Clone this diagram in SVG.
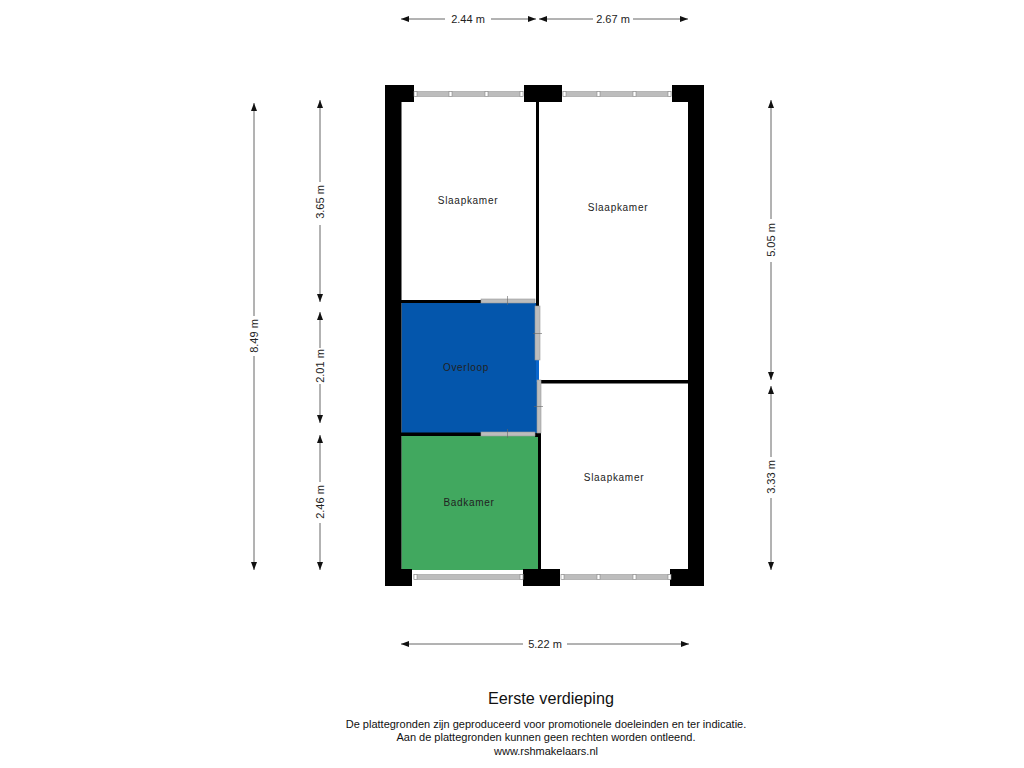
<svg xmlns="http://www.w3.org/2000/svg" width="1024" height="768" viewBox="0 0 1024 768">
<style>
.w{fill:#000}
.g{fill:#bdbdbd;stroke:#999;stroke-width:.6}
.p{fill:#fff;stroke:#888;stroke-width:.6}
.t{font-family:"Liberation Sans",Arial,sans-serif;font-size:10px;fill:#222;text-anchor:middle;letter-spacing:.7px}
.d{font-family:"Liberation Sans",Arial,sans-serif;font-size:11px;fill:#222;text-anchor:middle}
.c{font-family:"Liberation Sans",Arial,sans-serif;font-size:11px;fill:#111;text-anchor:middle}
.l{stroke:#666;stroke-width:1;fill:none}
.x{stroke:#666;stroke-width:.6}
</style>
<defs>
<marker id="a" viewBox="0 0 8 6" refX="8" refY="3" markerWidth="8" markerHeight="6" markerUnits="userSpaceOnUse" orient="auto-start-reverse"><path d="M0 0L8 3L0 6Z" fill="#111"/></marker>
</defs>
<rect width="1024" height="768" fill="#fff"/>
<g id="room-overloop"><rect x="401.500" y="303" width="136.500" height="130" fill="#0456ac"/><rect x="536" y="358" width="3" height="24" fill="#0a66cc"/><text class="t" x="466" y="371">Overloop</text></g>
<g id="room-badkamer"><rect x="401.500" y="436" width="136.500" height="134" fill="#41a85f"/><text class="t" x="469" y="506">Badkamer</text></g>
<g id="room-slaapkamer-1"><text class="t" x="468" y="204">Slaapkamer</text></g>
<g id="room-slaapkamer-2"><text class="t" x="618" y="211">Slaapkamer</text></g>
<g id="room-slaapkamer-3"><text class="t" x="614" y="481">Slaapkamer</text></g>
<g id="walls">
<path class="w" d="M385 85H414V102H401.500V569H412V586H385Z"/>
<rect class="w" x="524" y="85" width="38" height="17"/>
<path class="w" d="M672 85H704V586H670V569H688V102H672Z"/>
<rect class="w" x="523" y="569" width="37" height="17"/>
<rect class="w" x="536" y="102" width="3" height="204"/>
<rect class="w" x="401" y="300" width="80" height="3"/>
<rect class="w" x="401" y="432.500" width="80" height="3.500"/>
<rect class="w" x="535" y="433" width="6" height="4"/>
<rect class="w" x="538" y="436" width="3" height="133"/>
<rect class="w" x="541" y="380" width="148" height="3.500"/>
<rect class="w" x="536" y="298" width="3" height="8"/>
</g>
<g id="windows">
<rect class="g" x="415" y="91.500" width="108" height="5"/>
<rect class="g" x="563" y="91.500" width="108" height="5"/>
<rect class="g" x="414" y="574.500" width="109" height="5"/>
<rect class="g" x="562" y="574.500" width="108" height="5"/>
<rect class="p" x="414" y="91.500" width="3" height="5"/><rect class="p" x="449" y="91.500" width="3" height="5"/><rect class="p" x="485" y="91.500" width="3" height="5"/><rect class="p" x="520" y="91.500" width="3" height="5"/>
<rect class="p" x="563" y="91.500" width="3" height="5"/><rect class="p" x="597" y="91.500" width="3" height="5"/><rect class="p" x="633" y="91.500" width="3" height="5"/><rect class="p" x="668" y="91.500" width="3" height="5"/>
<rect class="p" x="414" y="574.500" width="3" height="5"/><rect class="p" x="520" y="574.500" width="3" height="5"/>
<rect class="p" x="561" y="574.500" width="3" height="5"/><rect class="p" x="597" y="574.500" width="3" height="5"/><rect class="p" x="633" y="574.500" width="3" height="5"/><rect class="p" x="668" y="574.500" width="3" height="5"/>
</g>
<g id="doors">
<rect class="g" x="481" y="299" width="54" height="4"/>
<rect class="g" x="481" y="432" width="54" height="4"/>
<rect class="g" x="535" y="306" width="5" height="54"/>
<rect class="g" x="537" y="380" width="4" height="53"/>
<path class="x" d="M507.500 296V305M507.500 429V438M533 333.500H542M534 406.500H543"/>
</g>
<g id="connectors">
<path class="l" marker-start="url(#a)" d="M401 19H445"/><path class="l" marker-end="url(#a)" d="M491 19H536"/>
<path class="l" marker-start="url(#a)" d="M539 19H593"/><path class="l" marker-end="url(#a)" d="M633 19H688"/>
<path class="l" marker-start="url(#a)" d="M401 644H523"/><path class="l" marker-end="url(#a)" d="M567 644H689"/>
<path class="l" marker-start="url(#a)" d="M254 103V316"/><path class="l" marker-end="url(#a)" d="M254 356V570"/>
<path class="l" marker-start="url(#a)" d="M320 100V182"/><path class="l" marker-end="url(#a)" d="M320 225V302"/>
<path class="l" marker-start="url(#a)" d="M320 312V348"/><path class="l" marker-end="url(#a)" d="M320 384V423"/>
<path class="l" marker-start="url(#a)" d="M320 435V482"/><path class="l" marker-end="url(#a)" d="M320 523V570"/>
<path class="l" marker-start="url(#a)" d="M771 100V219"/><path class="l" marker-end="url(#a)" d="M771 262V380"/>
<path class="l" marker-start="url(#a)" d="M771 386V457"/><path class="l" marker-end="url(#a)" d="M771 498V570"/>
</g>
<g id="dimensions">
<text class="d" x="468" y="23">2.44 m</text>
<text class="d" x="613" y="23">2.67 m</text>
<text class="d" x="545" y="648">5.22 m</text>
<text class="d" transform="translate(258 336) rotate(-90)">8.49 m</text>
<text class="d" transform="translate(324 202) rotate(-90)">3.65 m</text>
<text class="d" transform="translate(324 366) rotate(-90)">2.01 m</text>
<text class="d" transform="translate(324 502) rotate(-90)">2.46 m</text>
<text class="d" transform="translate(775 240) rotate(-90)">5.05 m</text>
<text class="d" transform="translate(775 477) rotate(-90)">3.33 m</text>
</g>
<g id="caption">
<text x="551" y="704" font-family="'Liberation Sans',Arial,sans-serif" font-size="16.200" fill="#111" text-anchor="middle">Eerste verdieping</text>
<text class="c" x="546" y="728">De plattegronden zijn geproduceerd voor promotionele doeleinden en ter indicatie.</text>
<text class="c" x="546" y="741">Aan de plattegronden kunnen geen rechten worden ontleend.</text>
<text class="c" x="546" y="755">www.rshmakelaars.nl</text>
</g>
</svg>
